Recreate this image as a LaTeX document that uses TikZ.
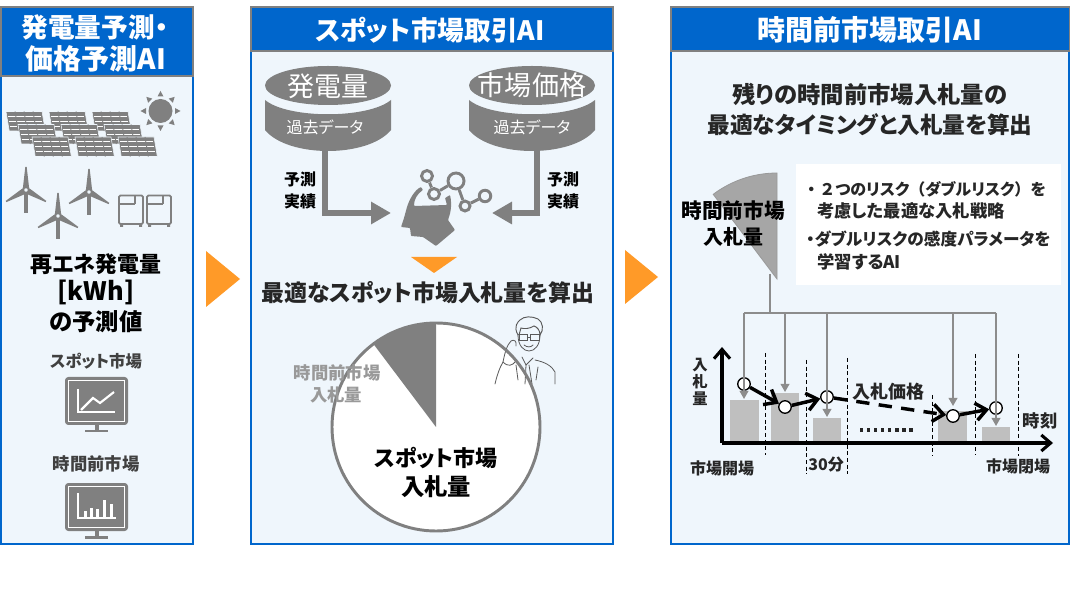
\documentclass[tikz,border=0pt]{standalone}
\usepackage{fontspec}
\setmainfont{Noto Sans CJK JP}[RawFeature=+palt]
\newfontfamily\plainjp{Noto Sans CJK JP}
\usetikzlibrary{arrows.meta}
\definecolor{hdblue}{HTML}{0066CC}
\definecolor{paleblue}{HTML}{EFF6FC}
\definecolor{iconjgray}{HTML}{808080}
\definecolor{barjgray}{HTML}{BFBFBF}
\definecolor{linejgray}{HTML}{8C8C8C}
\definecolor{manjgray}{HTML}{595959}
\definecolor{arroworange}{HTML}{FF9A28}
\definecolor{inkdark}{HTML}{262626}
\tikzset{
    panel/.style={draw=hdblue,line width=1.6pt,fill=paleblue},
    header/.style={draw=iconjgray,line width=0.8pt,fill=hdblue},
    headtext/.style={text=white,font=\bfseries\fontsize{20}{24}\selectfont,inner sep=0pt},
    bigtext/.style={font=\bfseries\fontsize{16.5}{20}\selectfont,inner sep=0pt,text=black},
    midtext/.style={font=\bfseries\fontsize{13}{16}\selectfont,inner sep=0pt,text=inkdark},
    smalltext/.style={font=\bfseries\fontsize{12}{15}\selectfont,inner sep=0pt,text=inkdark},
    grytext/.style={font=\bfseries\fontsize{13}{16}\selectfont,inner sep=0pt,text=black!40},
    dbtext/.style={font=\fontsize{20.3}{24}\selectfont,inner sep=0pt,text=white},
    dbsub/.style={font=\fontsize{12}{15}\selectfont,inner sep=0pt,text=white},
    ring/.style={circle,draw=iconjgray,line width=2.2pt,fill=paleblue,inner sep=0pt},
    pt/.style={circle,draw=black,line width=1pt,fill=white,inner sep=0pt,minimum size=12.5*0.75pt},
    drop/.style={linejgray,line width=1.1pt},
    droptip/.style={drop,-{Triangle[length=6pt,width=6.5pt]}},
    fat/.style={line width=2.6pt,-{Straight Barb[length=8pt,width=13pt,line width=2.6pt]}},
    slot/.style={black,densely dashed,line width=0.6pt},
    pipe/.style={iconjgray,line width=4.8pt,-{Triangle[length=15pt,width=16pt]}},
    axisline/.style={line width=2.3pt,-{Straight Barb[length=7pt,width=12pt,line width=2.3pt]}},
}
\newcommand{\solarpanel}[2]{
    \begin{scope}[shift={(#1,#2)}]
        \fill[iconjgray,draw=paleblue,line width=0.4pt] (0,0) -- (36,0) -- (39.3,19.5) -- (3.3,19.5) -- cycle;
        \foreach \h in {4.9,9.75,14.6}
            \draw[white,line width=0.8pt] ({1.5+\h*0.17},\h) -- ({34.5+\h*0.17},\h);
        \foreach \v in {9,18,27}
            \draw[iconjgray,line width=0.7pt] (\v,0) -- ({\v+3.3},19.5);
    \end{scope}
}
\newcommand{\turbine}[2]{
    \begin{scope}[shift={(#1,#2)}]
        \fill[iconjgray] (-2.2,3) rectangle (2.2,23);
        \foreach \a in {0,120,240}
            \fill[iconjgray,rotate=\a] (-3,-3) -- (-0.7,-23) -- (0.7,-23) -- (3,-3) -- cycle;
        \draw[iconjgray,line width=1.6pt,fill=paleblue] (0,0) circle[radius=3];
    \end{scope}
}
\newcommand{\screen}[2]{
    \begin{scope}[shift={(#1,#2)}]
        \fill[iconjgray,rounded corners=2.5pt] (0,0) rectangle (63,48);
        \draw[white,line width=0.8pt] (3.5,3.5) rectangle (59.5,44.5);
        \fill[iconjgray] (29.5,48) rectangle (33.5,54);
        \fill[iconjgray] (20,53) rectangle (43,55.5);
    \end{scope}
}
\begin{document}
\begin{tikzpicture}[x=0.75pt,y=-0.75pt]
    \useasboundingbox (0,0) rectangle (1070,605);

    % left panel
    \draw[panel] (1,7) rectangle (193,544);
    \draw[header] (1,7) rectangle (193,76);
    \node[headtext] (title1a) at (95,27) {発電量予測・};
    \node[headtext,font=\bfseries\fontsize{21}{24}\selectfont] (title1b) at (96,59) {価格予測AI};

    \foreach \x in {6,49,92} {\solarpanel{\x}{111.5}}
    \foreach \x in {18,61,104} {\solarpanel{\x}{124.5}}
    \foreach \x in {32,75,118} {\solarpanel{\x}{137}}

    \fill[iconjgray] (160.5,111) circle[radius=12];
    \foreach \a in {0,45,...,315}
        \fill[iconjgray,shift={(160.5,111)},rotate=\a] (-3,-14.5) -- (0,-20) -- (3,-14.5) -- cycle;

    \turbine{26}{190}
    \turbine{58}{216}
    \turbine{89}{192}

    \foreach \x in {119,147} {
        \draw[iconjgray,line width=1.3pt,rounded corners=1pt] (\x,195.5) rectangle ({\x+24},224);
        \draw[iconjgray,line width=1.1pt] (\x,204) -- ({\x+16},204) (\x+16,195.5) -- (\x+16,204);
        \fill[iconjgray] (\x+1,224) rectangle (\x+4,227) (\x+20,224) rectangle (\x+23,227);
    }

    \node[bigtext] (kwh1) at (96,264) {再エネ発電量};
    \node[bigtext,font=\bfseries\fontsize{19}{22}\selectfont] (kwh2) at (96,292) {[kWh]};
    \node[bigtext,font=\bfseries\fontsize{17.5}{20}\selectfont] (kwh3) at (96,322) {の予測値};

    \node[midtext,font=\bfseries\fontsize{12.3}{16}\selectfont,text=iconjgray!50!black] (spot) at (96,361) {スポット市場};
    \screen{65}{377}
    \draw[white,line width=1pt] (78,389) -- (78,412) -- (115,412);
    \draw[white,line width=1.6pt] (81,410) -- (93,398) -- (100,403) -- (114,392);

    \node[midtext,text=iconjgray!50!black] (intra) at (96,464) {時間前市場};
    \screen{65}{483}
    \draw[white,line width=1pt] (78,493) -- (78,518) -- (116,518);
    \foreach \x/\h in {84/6,90/9,96/8,103/17,110/13}
        \fill[white] (\x,517) rectangle ({\x+3.4},517-\h);

    \fill[arroworange] (206,251) -- (240,279) -- (206,307) -- cycle;

    % middle panel
    \draw[panel] (251,7) rectangle (613,544);
    \draw[header] (251,7) rectangle (613,51);
    \node[headtext] (title2) at (430,30) {スポット市場取引AI};

    \foreach \x in {328,532} {
        \fill[iconjgray] (\x-63,100) .. controls (\x-40,119) and (\x+40,119) .. (\x+63,100)
            -- (\x+63,130) .. controls (\x+40,158) and (\x-40,158) .. (\x-63,130) -- cycle;
        \fill[iconjgray] (\x,85.5) ellipse[x radius=63,y radius=19.5];
    }
    \node[dbtext] (ldbname) at (328,86) {発電量};
    \node[dbtext] (rdbname) at (532,85) {市場価格};
    \node[dbsub] (ldbsub) at (325,127) {過去データ};
    \node[dbsub] (rdbsub) at (532,127) {過去データ};

    \node[ring,minimum size=11*0.75pt] (net1) at (427,176) {};
    \node[ring,minimum size=16*0.75pt] (net2) at (456,181) {};
    \node[ring,minimum size=11*0.75pt] (net3) at (434,194) {};
    \node[ring,minimum size=10*0.75pt] (net4) at (465,206) {};
    \node[ring,minimum size=11.5*0.75pt] (net5) at (485,196) {};
    \draw[iconjgray,line width=2.2pt] (net1) -- (net3) -- (net2) -- (net4) -- (net5);

    \fill[iconjgray,rounded corners=0.6pt] (421,187) .. controls (415,190) and (410,198) .. (407,207)
        -- (404,218) -- (401,227) -- (410,228) -- (411,236) -- (423,237) -- (436,246) -- (455,230) -- (448,220)
        .. controls (451,212) and (452,204) .. (450,195) -- (445,198) -- (447,205) -- (414,206)
        .. controls (414,200) and (417,194) .. (423,190) -- cycle;

    \coordinate (lturn) at (325,213);
    \coordinate (lhead) at (391,213);
    \coordinate (lfoot) at (325,150);
    \coordinate (rturn) at (537,213);
    \coordinate (rhead) at (492,213);
    \coordinate (rfoot) at (537,150);
    \draw[pipe] (lfoot) -- (lturn) -- (lhead);
    \draw[pipe] (rfoot) -- (rturn) -- (rhead);

    \node[smalltext,text=black] (la) at (300,179) {予測};
    \node[smalltext,text=black] (lb) at (300,201) {実績};
    \node[smalltext,text=black] (ra) at (563,179) {予測};
    \node[smalltext,text=black] (rb) at (563,201) {実績};

    \fill[arroworange] (411,257) -- (457,257) -- (434,273) -- cycle;
    \node[bigtext,text=inkdark,font=\bfseries\fontsize{17.2}{20}\selectfont] (best) at (428,293) {最適なスポット市場入札量を算出};

    % pie
    \node[circle,fill=white,minimum size=208*0.75pt,inner sep=0pt] (pie) at (436,427) {};
    \fill[iconjgray] (pie.center) -- plot[domain=90:127,samples=20] ({436+104*cos(\x)},{427-104*sin(\x)}) -- cycle;

    % man on the phone
    \begin{scope}[manjgray,line width=0.6pt,line cap=round]
        \draw (518,335) .. controls (518,346) and (524,351) .. (529,351) .. controls (535,351) and (540,345) .. (540,335);
        \draw[line width=0.7pt] (518,335) .. controls (513,326) and (518,322) .. (520,320) .. controls (524,316) and (532,316) .. (538,319)
            .. controls (543,322) and (544,330) .. (540,335) .. controls (540,330) and (537,327) .. (534,326)
            .. controls (529,329) and (524,329) .. (521,328) -- (519,335);
        \draw[line width=0.75pt] (519,335) rectangle (527.5,340.5) (530.5,335) rectangle (539,340.5);
        \draw (527.5,337) -- (530.5,337);
        \draw (524,345) .. controls (527,347.5) and (531,347.5) .. (533,345);
        \draw (495,384) .. controls (497,375) and (500,367) .. (503,362) .. controls (505,352) and (507,345) .. (511,341)
            .. controls (514,339) and (517,341) .. (516,346);
        \draw (503,362) .. controls (508,367) and (512,366) .. (516,361);
        \draw (522,357) -- (526,365) -- (533,358);
        \draw (535,360) .. controls (545,362) and (552,366) .. (555,372) -- (555,384);
        \draw (526,365) -- (525,384) (529,365) -- (532,384);
        \draw (516,365) -- (518,380) (538,367) -- (536,380);
    \end{scope}
    \draw[iconjgray,line width=2.2pt] (pie.center) circle[radius=104];

    \node[grytext] (piea) at (337,373) {時間前市場};
    \node[grytext] (pieb) at (336,395) {入札量};
    \node[bigtext,font=\bfseries\fontsize{16.5}{22}\selectfont] (piec) at (436,458) {スポット市場};
    \node[bigtext,font=\bfseries\fontsize{17.5}{22}\selectfont] (pied) at (436,487) {入札量};

    \fill[arroworange] (625,250) -- (658,277) -- (625,304) -- cycle;

    % right panel
    \draw[panel] (671,7) rectangle (1069.4,544);
    \draw[header] (671,7) rectangle (1069.4,51);
    \node[headtext,font=\bfseries\fontsize{21}{24}\selectfont] (title3) at (870,30) {時間前市場取引AI};
    \node[bigtext,text=inkdark,font=\bfseries\fontsize{17.5}{20}\selectfont] (goala) at (870,95) {残りの時間前市場入札量の};
    \node[bigtext,text=inkdark,font=\bfseries\fontsize{17}{20}\selectfont] (goalb) at (870,125) {最適なタイミングと入札量を算出};

    \fill[white] (796,164) rectangle (1061,285);
    \node[midtext,anchor=west,font=\bfseries\fontsize{12}{16}\selectfont] (ptla) at (803,189) {{\plainjp ・２}つのリスク{\plainjp （}ダブルリスク{\plainjp ）}を};
    \node[midtext,anchor=west] (ptlb) at (817,211) {考慮した最適な入札戦略};
    \node[midtext,anchor=west,font=\bfseries\fontsize{12.5}{16}\selectfont] (ptlc) at (806,239) {・ダブルリスクの感度パラメータを};
    \node[midtext,anchor=west] (ptld) at (817,262) {学習するAI};

    \draw[fill=black!35,draw=black!40,line width=0.6pt] (777,279) -- plot[domain=90:127,samples=20] ({777+106*cos(\x)},{279-106*sin(\x)}) -- cycle;
    \node[midtext,text=black,font=\bfseries\fontsize{15.5}{16}\selectfont] (seca) at (733,211) {時間前市場};
    \node[midtext,text=black,font=\bfseries\fontsize{15}{16}\selectfont] (secb) at (733,237) {入札量};

    % bars
    \foreach \xa/\xb/\ytop in {730/759/400,771/799/393,813/841/418,938/967/411,982/1010/427}
        \fill[barjgray] (\xa,\ytop) rectangle (\xb,442);

    \foreach \x/\ya/\yb in {765/353/455,806/360/474,847/358/474,932/395/456,975/354/455,1018/354/456}
        \draw[slot] (\x,\ya) -- (\x,\yb);

    % curve of bids
    \node[pt] (bid1) at (744,384) {};
    \node[pt] (bid2) at (785,407) {};
    \node[pt] (bid3) at (827,397) {};
    \node[pt] (bid4) at (953,416) {};
    \node[pt] (bid5) at (996,408) {};
    \draw[fat] (bid1) -- (bid2);
    \draw[fat] (bid2) -- (bid3);
    \draw[fat,dash pattern=on 10pt off 7pt] (bid3) -- (bid4);
    \draw[fat] (bid4) -- (bid5);

    % feed lines
    \coordinate (feed) at (770,274);
    \coordinate (bus) at (770,313);
    \coordinate (bus1) at (744,313);
    \coordinate (bus2) at (785,313);
    \coordinate (bus3) at (827,313);
    \coordinate (bus4) at (953,313);
    \coordinate (bus5) at (996,313);
    \coordinate (tip1) at (744,399);
    \coordinate (tip2) at (785,392);
    \coordinate (tip3) at (827,417);
    \coordinate (tip4) at (953,406);
    \coordinate (tip5) at (996,426);
    \draw[drop] (feed) -- (bus);
    \draw[drop] (bus1) -- (bus5);
    \foreach \n in {1,...,5}
        \draw[droptip] (bus\n) -- (tip\n);

    % axes
    \coordinate (orig) at (722,443);
    \coordinate (yend) at (722,347);
    \coordinate (xend) at (1053,443);
    \draw[axisline] (orig) -- (yend);
    \draw[axisline] (orig) -- (xend);

    \node[midtext,font=\bfseries\fontsize{11.5}{13}\selectfont,align=center] (ylab) at (700,382) {入\\札\\量};
    \node[bigtext,font=\bfseries\fontsize{13.5}{16}\selectfont,text=inkdark] (price) at (888,392) {入札価格};
    \coordinate (dotsa) at (860,430);
    \coordinate (dotsb) at (914,430);
    \draw[line width=2.4pt,dash pattern=on 2.4pt off 2.9pt,inkdark] (dotsa) -- (dotsb);
    \node[midtext] (tlab) at (1040,421) {時刻};
    \node[smalltext] (opn) at (722,468) {市場開場};
    \node[smalltext] (min) at (826,465) {30分};
    \node[smalltext] (cls) at (1018,466) {市場閉場};
\end{tikzpicture}
\end{document}
